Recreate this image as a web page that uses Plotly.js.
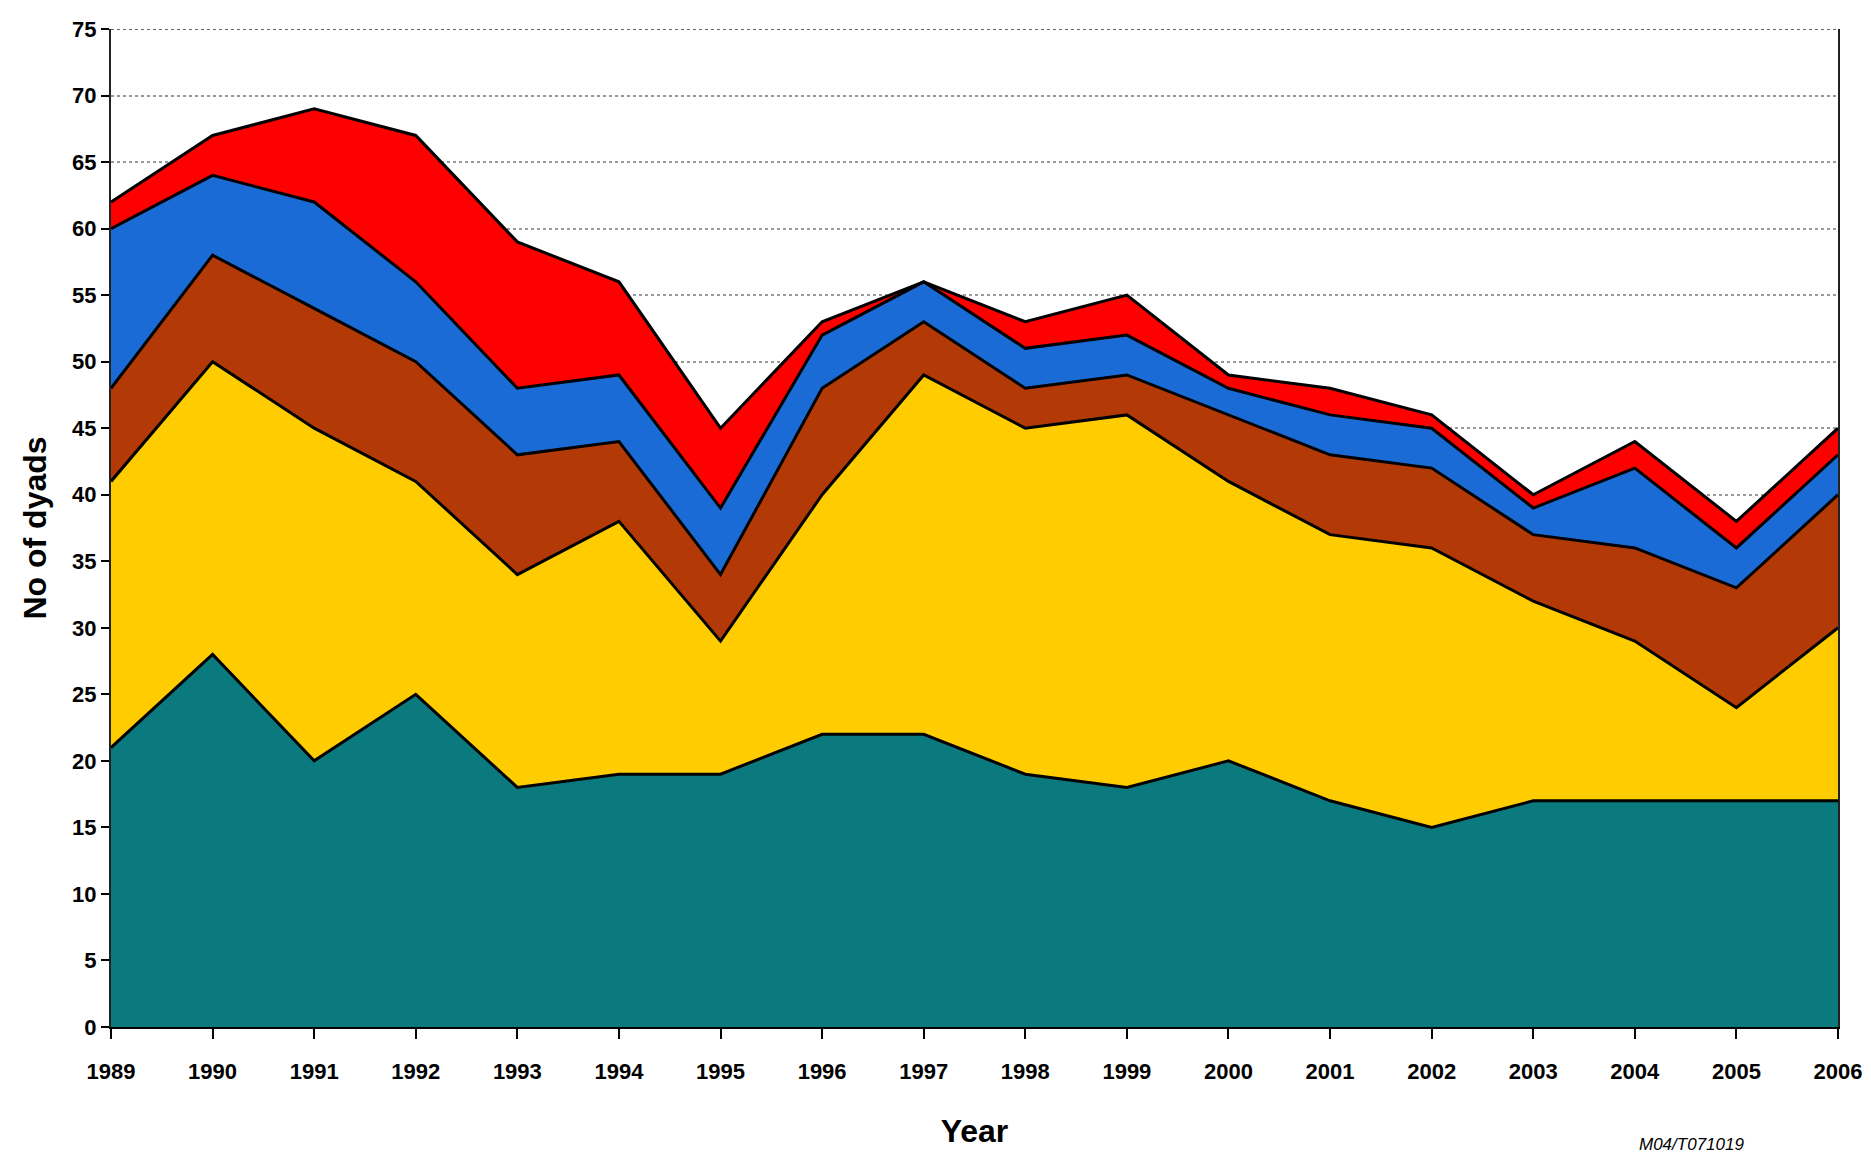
<!DOCTYPE html>
<html>
<head>
<meta charset="utf-8">
<script src="https://cdn.plot.ly/plotly-3.0.1.min.js"></script>
<style>html,body{margin:0;padding:0;background:#fff;}#chart{width:1871px;height:1155px;}</style>
</head>
<body>
<div id="chart"></div>
<script>
const years = [1989,1990,1991,1992,1993,1994,1995,1996,1997,1998,1999,2000,2001,2002,2003,2004,2005,2006];
const tealSeries   = [21,28,20,25,18,19,19,22,22,19,18,20,17,15,17,17,17,17];
const yellowSeries = [20,22,25,16,16,19,10,18,27,26,28,21,20,21,15,12,7,13];
const brownSeries  = [7,8,9,9,9,6,5,8,4,3,3,5,6,6,5,7,9,10];
const blueSeries   = [12,6,8,6,5,5,5,4,3,3,3,2,3,3,2,6,3,3];
const redSeries    = [2,3,7,11,11,7,6,1,0,2,3,1,2,1,1,2,2,2];
const yTicks = [0,5,10,15,20,25,30,35,40,45,50,55,60,65,70,75];

const seriesDefs = [
  {name:'Series 1', y: tealSeries,   color:'#0a7a7e'},
  {name:'Series 2', y: yellowSeries, color:'#ffcc00'},
  {name:'Series 3', y: brownSeries,  color:'#b33a06'},
  {name:'Series 4', y: blueSeries,   color:'#1a6bd6'},
  {name:'Series 5', y: redSeries,    color:'#ff0000'}
];

const traces = seriesDefs.map(s => ({
  type:'scatter', mode:'lines', x: years, y: s.y, name: s.name,
  stackgroup:'one', fillcolor: s.color,
  line:{color:'#000000', width:3, shape:'linear'},
  hoverinfo:'x+y+name'
}));

const layout = {
  width:1871, height:1155,
  margin:{l:111, r:33, t:29, b:128},
  paper_bgcolor:'#ffffff', plot_bgcolor:'#ffffff',
  showlegend:false,
  font:{family:'Liberation Sans, Arial, sans-serif', color:'#000'},
  xaxis:{
    range:[1989,2006], tickvals: years, ticktext: years.map(String),
    ticks:'outside', ticklen:10, tickwidth:2, tickcolor:'#000',
    showline:true, linecolor:'#000', linewidth:2, mirror:false,
    showgrid:false, zeroline:false,
    tickfont:{family:'Liberation Sans, Arial, sans-serif', size:22, weight:'bold', color:'#000'},
    ticklabelstandoff:14,
    title:{text:'<b>Year</b>', font:{family:'Liberation Sans, Arial, sans-serif', size:32, color:'#000'}, standoff:36}
  },
  yaxis:{
    range:[0,75], tickvals: yTicks,
    ticks:'outside', ticklen:8, tickwidth:2, tickcolor:'#000',
    showline:true, linecolor:'#222', linewidth:2, mirror:true,
    showgrid:true, gridcolor:'#9a9a9a', gridwidth:2, griddash:'dot',
    zeroline:false,
    tickfont:{family:'Liberation Sans, Arial, sans-serif', size:22, weight:'bold', color:'#000'},
    title:{text:'<b>No of dyads</b>', font:{family:'Liberation Sans, Arial, sans-serif', size:32, color:'#000'}, standoff:16}
  },
  shapes:[
    {type:'line', xref:'paper', yref:'y', x0:0, x1:1, y0:75, y1:75,
     line:{color:'#666', width:2, dash:'dot'}, layer:'above'}
  ],
  annotations:[
    {xref:'paper', yref:'paper', x:0.915, y:-0.118, xanchor:'center', yanchor:'middle',
     text:'<i>M04/T071019</i>', showarrow:false,
     font:{family:'Liberation Sans, Arial, sans-serif', size:17, color:'#000'}}
  ]
};

Plotly.newPlot('chart', traces, layout, {displayModeBar:false, staticPlot:true});
</script>
</body>
</html>
